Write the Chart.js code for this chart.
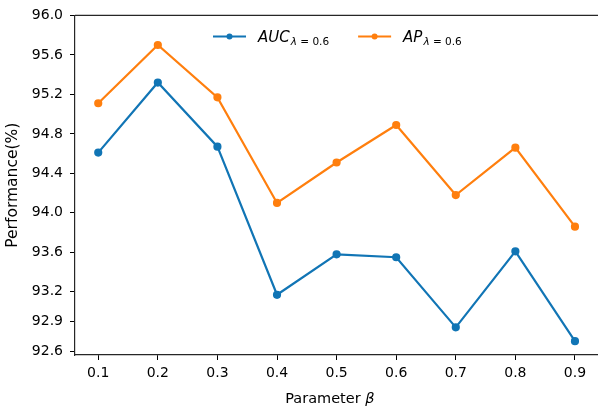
<!DOCTYPE html>
<html>
<head>
<meta charset="utf-8">
<title>Performance vs Parameter β</title>
<script src="https://cdn.jsdelivr.net/npm/chart.js@4.4.1/dist/chart.umd.min.js"></script>
<style>
  html, body { margin: 0; padding: 0; background: #fff; overflow: hidden; }
  #wrap { width: 604px; height: 410px; position: relative; }
</style>
</head>
<body>
<div id="wrap"><canvas id="perfChart"></canvas></div>
<script>
// values per beta setting
const betas = [0.1, 0.2, 0.3, 0.4, 0.5, 0.6, 0.7, 0.8, 0.9];
const aucValues = [94.61, 95.32, 94.67, 93.17, 93.58, 93.55, 92.84, 93.61, 92.70];
const apValues  = [95.11, 95.70, 95.17, 94.10, 94.51, 94.89, 94.18, 94.66, 93.86];
const yTickValues = [92.6, 92.9, 93.2, 93.6, 94.0, 94.4, 94.8, 95.2, 95.6, 96.0];
const seriesNames = ['AUC', 'AP'];
const seriesSub = ['λ', ' = 0.6'];

const BLUE = '#1175b5';
const ORANGE = '#ff7f0e';
const FONT = '"DejaVu Sans", sans-serif';

// top spine, mathtext-style legend and x label
const decorations = {
  id: 'decorations',
  afterDraw(chart) {
    const { ctx, chartArea: a } = chart;
    ctx.save();

    ctx.strokeStyle = '#262626';
    ctx.lineWidth = 1.2;
    ctx.beginPath();
    ctx.moveTo(a.left, a.top);
    ctx.lineTo(a.right, a.top);
    ctx.stroke();

    // legend
    const colors = [BLUE, ORANGE];
    const mainFont = 'italic 15px ' + FONT;
    const subItalic = 'italic 10.5px ' + FONT;
    const subFont = '10.5px ' + FONT;
    const handleW = 33, textGap = 12, itemGap = 30;
    const widths = seriesNames.map(name => {
      ctx.font = mainFont; let w = ctx.measureText(name).width;
      ctx.font = subItalic; w += ctx.measureText(seriesSub[0]).width;
      ctx.font = subFont; w += ctx.measureText(seriesSub[1]).width;
      return w;
    });
    const total = widths.reduce((s, w) => s + handleW + textGap + w, 0) + itemGap;
    let x = (a.left + a.right) / 2 - total / 2;
    const lineY = a.top + 21;
    const baseY = a.top + 27;
    ctx.textBaseline = 'alphabetic';
    ctx.textAlign = 'left';
    seriesNames.forEach((name, i) => {
      ctx.strokeStyle = colors[i];
      ctx.fillStyle = colors[i];
      ctx.lineWidth = 2;
      ctx.beginPath();
      ctx.moveTo(x, lineY);
      ctx.lineTo(x + handleW, lineY);
      ctx.stroke();
      ctx.beginPath();
      ctx.arc(x + handleW / 2, lineY, 3, 0, Math.PI * 2);
      ctx.fill();
      let tx = x + handleW + textGap;
      ctx.fillStyle = '#000';
      ctx.font = mainFont;
      ctx.fillText(name, tx, baseY);
      tx += ctx.measureText(name).width + 1;
      ctx.font = subItalic;
      ctx.fillText(seriesSub[0], tx, baseY + 3);
      tx += ctx.measureText(seriesSub[0]).width;
      ctx.font = subFont;
      ctx.fillText(seriesSub[1], tx, baseY + 3);
      x += handleW + textGap + widths[i] + itemGap;
    });

    // x axis title: "Parameter" upright, beta italic
    const part1 = 'Parameter ';
    const part2 = 'β';
    ctx.font = '14.5px ' + FONT;
    const w1 = ctx.measureText(part1).width;
    ctx.font = 'italic 14.5px ' + FONT;
    const w2 = ctx.measureText(part2).width;
    let px = (a.left + a.right) / 2 - 7 - (w1 + w2) / 2;
    ctx.fillStyle = '#000';
    ctx.font = '14.5px ' + FONT;
    ctx.fillText(part1, px, 403);
    ctx.font = 'italic 14.5px ' + FONT;
    ctx.fillText(part2, px + w1, 403);

    ctx.restore();
  }
};

const axisStyle = {
  grid: { drawOnChartArea: false, drawTicks: true, tickLength: 5, tickColor: '#000', tickWidth: 1 },
  border: { display: true, color: '#262626', width: 1.2 }
};

new Chart(document.getElementById('perfChart'), {
  type: 'line',
  data: {
    datasets: [
      {
        label: seriesNames[0],
        data: betas.map((b, i) => ({ x: b, y: aucValues[i] })),
        borderColor: BLUE,
        backgroundColor: BLUE,
        borderWidth: 2.2,
        pointRadius: 3,
        pointHoverRadius: 3,
        tension: 0
      },
      {
        label: seriesNames[1],
        data: betas.map((b, i) => ({ x: b, y: apValues[i] })),
        borderColor: ORANGE,
        backgroundColor: ORANGE,
        borderWidth: 2.2,
        pointRadius: 3,
        pointHoverRadius: 3,
        tension: 0
      }
    ]
  },
  options: {
    responsive: true,
    maintainAspectRatio: false,
    animation: false,
    layout: { padding: { top: 15, right: 2, bottom: 0, left: 0 } },
    plugins: {
      legend: { display: false },
      tooltip: { enabled: false }
    },
    scales: {
      x: {
        type: 'linear',
        min: 0.061,
        max: 0.94,
        afterBuildTicks: s => { s.ticks = betas.map(v => ({ value: v })); },
        afterFit: s => { s.height = 55; },
        ticks: {
          font: { family: FONT, size: 14 },
          color: '#000',
          padding: 5,
          maxRotation: 0,
          callback: v => Number(v).toFixed(1)
        },
        ...axisStyle
      },
      y: {
        min: 92.56,
        max: 96.0,
        afterBuildTicks: s => { s.ticks = yTickValues.map(v => ({ value: v })); },
        afterFit: s => { s.width = 75; },
        ticks: {
          font: { family: FONT, size: 14 },
          color: '#000',
          padding: 7,
          callback: v => Number(v).toFixed(1)
        },
        title: {
          display: true,
          text: 'Performance(%)',
          font: { family: FONT, size: 15.5 },
          color: '#000',
          padding: { top: 4, bottom: 0 }
        },
        ...axisStyle
      }
    }
  },
  plugins: [decorations]
});
</script>
</body>
</html>
